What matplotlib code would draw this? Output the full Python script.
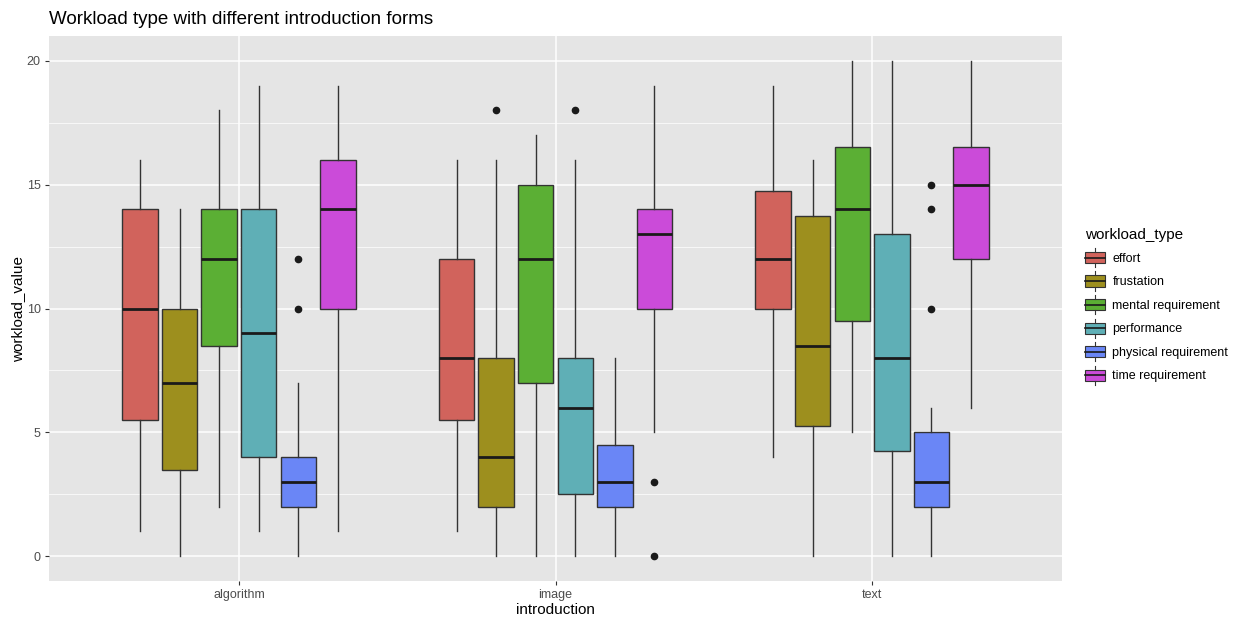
import matplotlib
matplotlib.use("Agg")
import matplotlib.pyplot as plt
from matplotlib.legend_handler import HandlerBase
from matplotlib.patches import Rectangle
from matplotlib.lines import Line2D

plt.rcParams["font.family"] = ["Liberation Sans", "DejaVu Sans"]

# introduction forms on the x axis
introductions = ["algorithm", "image", "text"]
workload_types = ["effort", "frustation", "mental requirement", "performance",
                  "physical requirement", "time requirement"]
colors = ["#D1635C", "#9D8F1E", "#5BAF34", "#5FAFB6", "#6A86F6", "#CB4BD9"]

# box statistics, one list per introduction (order = workload_types)
whislo = {"algorithm": [1, 0, 2, 1, 0, 1],
          "image":     [1, 0, 0, 0, 0, 5],
          "text":      [4, 0, 5, 0, 0, 6]}
q1 = {"algorithm": [5.5, 3.5, 8.5, 4, 2, 10],
      "image":     [5.5, 2, 7, 2.5, 2, 10],
      "text":      [10, 5.25, 9.5, 4.25, 2, 12]}
med = {"algorithm": [10, 7, 12, 9, 3, 14],
       "image":     [8, 4, 12, 6, 3, 13],
       "text":      [12, 8.5, 14, 8, 3, 15]}
q3 = {"algorithm": [14, 10, 14, 14, 4, 16],
      "image":     [12, 8, 15, 8, 4.5, 14],
      "text":      [14.75, 13.75, 16.5, 13, 5, 16.5]}
whishi = {"algorithm": [16, 14, 18, 19, 7, 19],
          "image":     [16, 16, 17, 16, 8, 19],
          "text":      [19, 16, 20, 20, 6, 20]}
outliers = {"algorithm": [[], [], [], [], [10, 12], []],
            "image":     [[], [18], [], [18], [], [3, 0]],
            "text":      [[], [], [], [], [10, 14, 15], []]}

fig = plt.figure(figsize=(12.41, 6.2), dpi=100)
ax = fig.add_axes([49 / 1241, 1 - 581 / 620, (1062 - 49) / 1241, (581 - 36) / 620])
ax.set_facecolor("#E5E5E5")

dodge = 0.125
box_w = 0.112
for gi, intro in enumerate(introductions):
    for k, wt in enumerate(workload_types):
        pos = gi + 1 + (k - 2.5) * dodge
        st = [dict(whislo=whislo[intro][k], q1=q1[intro][k], med=med[intro][k],
                   q3=q3[intro][k], whishi=whishi[intro][k], fliers=outliers[intro][k])]
        ax.bxp(st, positions=[pos], widths=box_w, patch_artist=True, showcaps=False,
               boxprops=dict(facecolor=colors[k], edgecolor="#333333", linewidth=1.0),
               whiskerprops=dict(color="#333333", linewidth=1.0),
               medianprops=dict(color="#1A1A1A", linewidth=2.0),
               flierprops=dict(marker="o", markerfacecolor="#1A1A1A", markeredgecolor="#1A1A1A",
                               markersize=4.5),
               manage_ticks=False, zorder=3)

ax.set_xlim(0.4, 3.6)
ax.set_ylim(-1, 21)
ax.set_xticks([1, 2, 3])
ax.set_xticklabels(introductions)
ax.set_yticks([0, 5, 10, 15, 20])
ax.set_yticks([2.5, 7.5, 12.5, 17.5], minor=True)
ax.grid(True, which="major", color="white", linewidth=1.1, zorder=0)
ax.grid(True, which="minor", axis="y", color="white", linewidth=0.5, zorder=0)
ax.set_axisbelow(True)
for s in ax.spines.values():
    s.set_visible(False)
ax.tick_params(which="major", length=3, color="#333333", labelsize=9, labelcolor="#4D4D4D", pad=3)
ax.tick_params(which="minor", length=0)

ax.set_xlabel("introduction", fontsize=11, labelpad=1)
ax.set_ylabel("workload_value", fontsize=11, labelpad=1)
fig.text(49 / 1241, 1 - 19 / 620, "Workload type with different introduction forms",
         fontsize=13.5, va="center", ha="left")


class BoxKey(HandlerBase):
    def create_artists(self, legend, orig_handle, xdescent, ydescent, width, height, fontsize, trans):
        c = orig_handle.get_facecolor()
        x0, y0 = -xdescent, -ydescent
        rect = Rectangle((x0, y0 + height * 0.15), width, height * 0.7, facecolor=c,
                         edgecolor="#333333", linewidth=0.8, transform=trans)
        mid = Line2D([x0, x0 + width], [y0 + height / 2] * 2, color="#1A1A1A", lw=1.2, transform=trans)
        top = Line2D([x0 + width / 2] * 2, [y0 + height * 0.85, y0 + height * 1.1], color="#333333",
                     lw=0.8, transform=trans)
        bot = Line2D([x0 + width / 2] * 2, [y0 - height * 0.1, y0 + height * 0.15], color="#333333",
                     lw=0.8, transform=trans)
        return [rect, mid, top, bot]


handles = [Rectangle((0, 0), 1, 1, facecolor=c) for c in colors]
leg = fig.legend(handles, workload_types, handler_map={Rectangle: BoxKey()},
                 loc="upper left", bbox_to_anchor=(1080 / 1241, 1 - 223 / 620),
                 frameon=False, fontsize=9, title="workload_type", title_fontsize=11,
                 handlelength=1.6, handleheight=1.6, handletextpad=0.6, labelspacing=0.6,
                 borderaxespad=0)
leg._legend_box.align = "left"

fig.savefig("out.png", dpi=100, facecolor="white")
